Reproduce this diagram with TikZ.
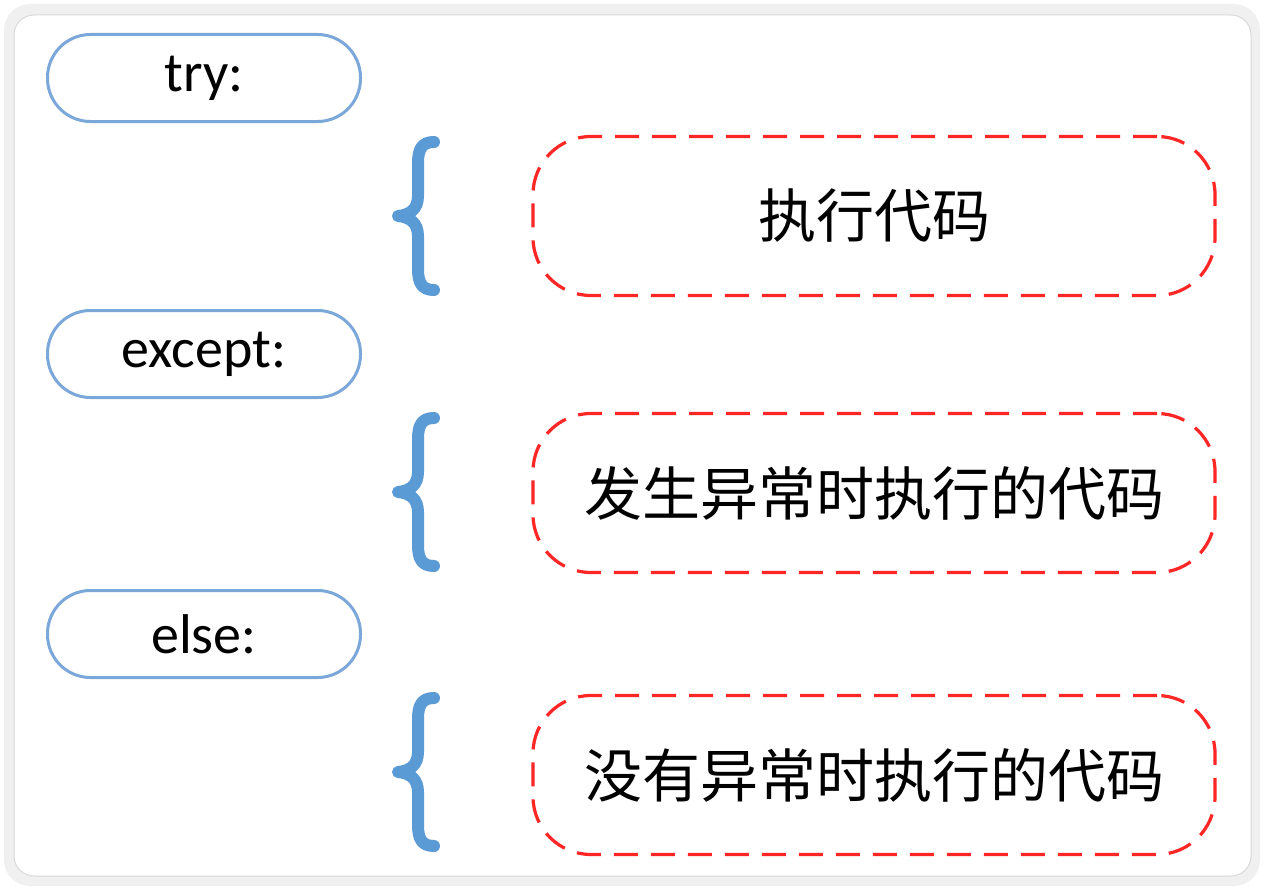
\documentclass[tikz,border=0pt]{standalone}
\usepackage{fontspec}
\setmainfont{Carlito}
\newfontfamily\cjk{Noto Sans CJK SC}
\definecolor{kwblue}{HTML}{7BA7D9}
\definecolor{braceblue}{HTML}{5B9BD5}
\definecolor{bodyred}{HTML}{FF2626}

\begin{document}
\begin{tikzpicture}[x=1pt,y=-1pt,
   keyword/.style={draw=kwblue,line width=3pt,fill=white,minimum width=313pt,minimum height=87pt,rounded corners=43pt,font=\fontsize{56}{64}\selectfont},
   body/.style={draw=bodyred,line width=3.2pt,dash pattern=on 24pt off 13pt,minimum width=682pt,minimum height=159pt,rounded corners=58pt,font=\cjk\fontsize{58}{66}\selectfont},
   brace/.style={draw=braceblue,line width=12pt,line cap=round,line join=round}]
   % frame
   \useasboundingbox (0,0) rectangle (1267,891);
   \fill[gray!12,rounded corners=26pt] (4,4) rectangle (1260,886);
   \filldraw[fill=white,draw=gray!30,line width=1pt,rounded corners=20pt] (14,15) rectangle (1251,876);
   % keywords
   \node[keyword] (trykw) at (204,78) {try:};
   \node[keyword] (exceptkw) at (204,354) {except:};
   \node[keyword] (elsekw) at (204,634) {else:};
   % code blocks
   \node[body] (trybody) at (874,216) {执行代码};
   \node[body] (exceptbody) at (874,493) {发生异常时执行的代码};
   \node[body] (elsebody) at (874,775) {没有异常时执行的代码};
   % braces
   \draw[brace] (434,142) .. controls (422,142) and (418,149) .. (418,163) -- (418,196)
      .. controls (418,209) and (410,215) .. (398,216) .. controls (410,217) and (418,223) .. (418,236)
      -- (418,269) .. controls (418,283) and (422,290) .. (434,290);
   \draw[brace,shift={(0,276)}] (434,142) .. controls (422,142) and (418,149) .. (418,163) -- (418,196)
      .. controls (418,209) and (410,215) .. (398,216) .. controls (410,217) and (418,223) .. (418,236)
      -- (418,269) .. controls (418,283) and (422,290) .. (434,290);
   \draw[brace,shift={(0,556)}] (434,142) .. controls (422,142) and (418,149) .. (418,163) -- (418,196)
      .. controls (418,209) and (410,215) .. (398,216) .. controls (410,217) and (418,223) .. (418,236)
      -- (418,269) .. controls (418,283) and (422,290) .. (434,290);
\end{tikzpicture}
\end{document}
